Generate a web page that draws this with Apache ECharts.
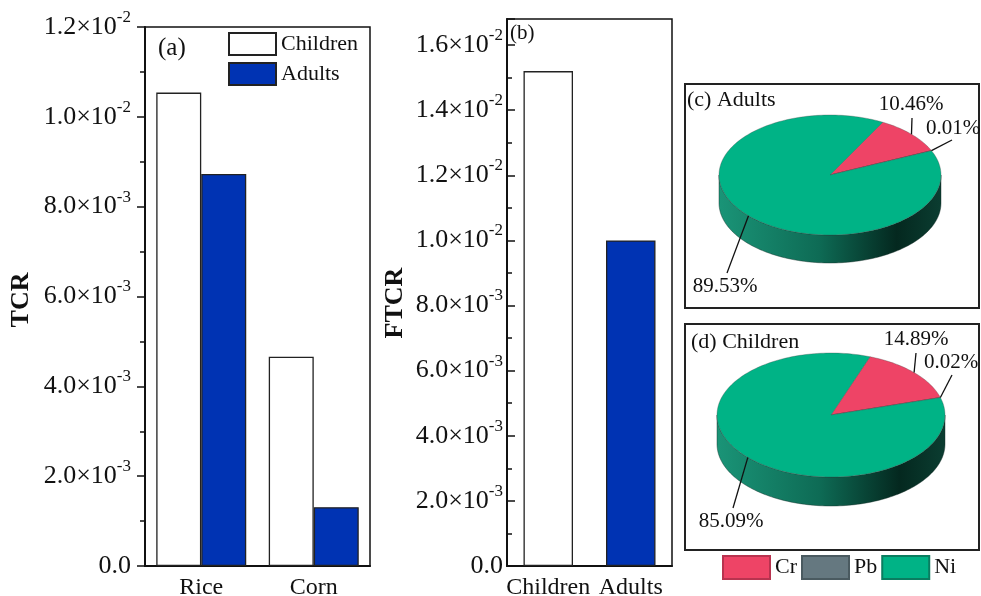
<!DOCTYPE html>
<html>
<head>
<meta charset="utf-8">
<script src="https://cdn.jsdelivr.net/npm/echarts@6/dist/echarts.min.js"></script>
<style>
html,body{margin:0;padding:0;background:#fff;}
#chart{width:981px;height:596px;}
</style>
</head>
<body>
<div id="chart"></div>
<script>
// ---------------- data ----------------
const categoriesA = ['Rice', 'Corn'];
const seriesNamesA = ['Children', 'Adults'];
const tcrChildren = [0.01054, 0.00466];
const tcrAdults = [0.00873, 0.00131];

const categoriesB = ['Children', 'Adults'];
const ftcrValues = [0.0152, 0.0100];

const pieElements = ['Cr', 'Pb', 'Ni'];
const pieGroups = ['Adults', 'Children'];
const adultsShares = [10.46, 0.01, 89.53];
const childrenShares = [14.89, 0.02, 85.09];

const axisA = { min: 0, max: 0.012, interval: 0.002 };
const axisB = { min: 0, max: 0.0168, interval: 0.002 };

// ---------------- styles / layout ----------------
const FONT = 'Liberation Serif';
const BLUE = '#0033b3';
const elementColors = { Cr: '#ee4466', Pb: '#657880', Ni: '#00b386' };
const elementBorders = { Cr: '#b8334f', Pb: '#4a5a60', Ni: '#0a7d60' };
const sideStops = {
  Cr: [['#c23355', 0], ['#7a1f35', 0.8], ['#8a2a40', 1]],
  Pb: [['#56666c', 0], ['#2d3a3f', 0.8], ['#3a4a50', 1]],
  Ni: [['#1a9477', 0], ['#0e6b55', 0.45], ['#04281f', 0.8], ['#0b3d31', 1]]
};
const PIE_LAYOUT = [
  { cx: 830, cy: 175, rx: 111, ry: 60, depth: 28, start: 61.6,
    labels: [ { end: [912, 118], text: [911, 104] },
              { end: [952, 140], text: [953, 128] },
              { end: [727, 273], text: [725, 286] } ] },
  { cx: 831, cy: 415, rx: 114, ry: 62, depth: 29, start: 70,
    labels: [ { end: [916, 353], text: [916, 339] },
              { end: [952, 375], text: [951, 362] },
              { end: [733, 508], text: [731, 521] } ] }
];
const sharesByGroup = [adultsShares, childrenShares];

function sciLabel(v) {
  if (Math.abs(v) < 1e-12) return '{z|0.0}';
  const e = Math.floor(Math.log10(v) + 1e-9);
  const m = (v / Math.pow(10, e)).toFixed(1);
  return '{m|' + m + '×10}{s|' + e + '}';
}
const sciRich = {
  z: { fontFamily: FONT, fontSize: 26, color: '#111', padding: [5, 0, 0, 0] },
  m: { fontFamily: FONT, fontSize: 26, color: '#111', padding: [5, 0, 0, 0] },
  s: { fontFamily: FONT, fontSize: 17, color: '#111', verticalAlign: 'top' }
};

function renderPie(params, api) {
  const elemIdx = pieElements.indexOf(params.seriesName);
  const pieIdx = api.value(0);
  const shares = sharesByGroup[pieIdx];
  const L = PIE_LAYOUT[pieIdx];
  const total = shares.reduce((a, b) => a + b, 0);
  let cum = 0;
  for (let i = 0; i < elemIdx; i++) cum += shares[i];
  const hi = L.start - cum / total * 360;
  const lo = L.start - (cum + shares[elemIdx]) / total * 360;
  const pt = (deg, dy) => {
    const r = deg * Math.PI / 180;
    return [L.cx + L.rx * Math.cos(r), L.cy - L.ry * Math.sin(r) + (dy || 0)];
  };
  const arc = (a, b, dy) => {
    const n = Math.max(2, Math.ceil(Math.abs(b - a) / 1.5));
    const out = [];
    for (let i = 0; i <= n; i++) out.push(pt(a + (b - a) * i / n, dy));
    return out;
  };
  const color = api.visual('color');
  const children = [];
  for (let k = -2; k <= 1; k++) {
    const s = Math.max(lo, -180 + 360 * k), e = Math.min(hi, 360 * k);
    if (e > s) {
      const pts = arc(s, e, 0).concat(arc(e, s, L.depth));
      children.push({
        type: 'polygon', z2: 1,
        shape: { points: pts },
        style: {
          fill: { type: 'linear', x: L.cx - L.rx, y: 0, x2: L.cx + L.rx, y2: 0, global: true,
                  colorStops: sideStops[params.seriesName].map(c => ({ offset: c[1], color: c[0] })) },
          stroke: 'rgba(20,40,35,0.7)', lineWidth: 0.6
        }
      });
    }
  }
  children.push({
    type: 'polygon', z2: 10,
    shape: { points: [[L.cx, L.cy]].concat(arc(hi, lo, 0)) },
    style: { fill: color, stroke: 'rgba(70,70,70,0.55)', lineWidth: 0.6 }
  });
  const anchor = pt((hi + lo) / 2, 0);
  const lab = L.labels[elemIdx];
  children.push({
    type: 'line', z2: 20,
    shape: { x1: anchor[0], y1: anchor[1], x2: lab.end[0], y2: lab.end[1] },
    style: { stroke: '#111', lineWidth: 1.3 }
  });
  children.push({
    type: 'text', z2: 20,
    style: { text: shares[elemIdx].toFixed(2) + '%', x: lab.text[0], y: lab.text[1],
             align: 'center', verticalAlign: 'middle', fontFamily: FONT, fontSize: 21, fill: '#111' }
  });
  return { type: 'group', children: children };
}

const chart = echarts.init(document.getElementById('chart'), null, { renderer: 'canvas' });

const pieSeries = pieElements.map(name => ({
  type: 'custom', name: name, coordinateSystem: 'none',
  itemStyle: { color: elementColors[name], borderColor: elementBorders[name], borderWidth: 1 },
  data: pieGroups.map((g, gi) => ({ name: g, value: [gi, sharesByGroup[gi][pieElements.indexOf(name)]] })),
  renderItem: renderPie,
  silent: true
}));

const option = {
  backgroundColor: '#fff',
  animation: false,
  legend: [
    { data: seriesNamesA, orient: 'vertical', left: 223, top: 27, itemWidth: 47, itemHeight: 22,
      itemGap: 6, icon: 'rect', selectedMode: false,
      textStyle: { fontFamily: FONT, fontSize: 22, color: '#111' } },
    { data: pieElements, orient: 'horizontal', left: 717, top: 550, itemWidth: 47, itemHeight: 23,
      itemGap: 4, icon: 'rect', selectedMode: false,
      textStyle: { fontFamily: FONT, fontSize: 22, color: '#111' } }
  ],
  grid: [
    { left: 145, top: 27, width: 225, height: 539, show: true, borderColor: '#111', borderWidth: 1.5,
      backgroundColor: 'transparent', containLabel: false, outerBoundsMode: 'none' },
    { left: 507, top: 19, width: 165, height: 547, show: true, borderColor: '#111', borderWidth: 1.5,
      backgroundColor: 'transparent', containLabel: false, outerBoundsMode: 'none' }
  ],
  xAxis: [
    { type: 'category', gridIndex: 0, data: categoriesA,
      axisLine: { lineStyle: { color: '#111', width: 2 } }, axisTick: { show: false },
      axisLabel: { fontFamily: FONT, fontSize: 24, color: '#111', margin: 10 } },
    { type: 'category', gridIndex: 1, data: categoriesB,
      axisLine: { lineStyle: { color: '#111', width: 2 } }, axisTick: { show: false },
      axisLabel: { fontFamily: FONT, fontSize: 24, color: '#111', margin: 10, interval: 0 } }
  ],
  yAxis: [
    { type: 'value', gridIndex: 0, min: axisA.min, max: axisA.max, interval: axisA.interval,
      axisLine: { show: true, lineStyle: { color: '#111', width: 2 } },
      axisTick: { show: true, inside: false, length: 8, lineStyle: { color: '#111', width: 1.5 } },
      minorTick: { show: true, splitNumber: 2, length: 5, lineStyle: { color: '#111', width: 1.5 } },
      splitLine: { show: false },
      axisLabel: { formatter: sciLabel, rich: sciRich, margin: 14, padding: [0, 0, 5, 0] } },
    { type: 'value', gridIndex: 1, min: axisB.min, max: axisB.max, interval: axisB.interval,
      axisLine: { show: true, lineStyle: { color: '#111', width: 2 } },
      axisTick: { show: true, inside: true, length: 8, lineStyle: { color: '#111', width: 1.5 } },
      minorTick: { show: true, splitNumber: 2, length: 5, lineStyle: { color: '#111', width: 1.5 } },
      splitLine: { show: false },
      axisLabel: { formatter: sciLabel, rich: sciRich, margin: 4, padding: [0, 0, 5, 0], showMaxLabel: false } }
  ],
  series: [
    { type: 'bar', name: seriesNamesA[0], xAxisIndex: 0, yAxisIndex: 0, data: tcrChildren,
      barGap: '0%', barCategoryGap: '20%',
      itemStyle: { color: '#ffffff', borderColor: '#222', borderWidth: 1.3 } },
    { type: 'bar', name: seriesNamesA[1], xAxisIndex: 0, yAxisIndex: 0, data: tcrAdults,
      barGap: '0%', barCategoryGap: '20%',
      itemStyle: { color: BLUE, borderColor: '#222', borderWidth: 1.3 } },
    { type: 'bar', name: 'FTCR', xAxisIndex: 1, yAxisIndex: 1, data: ftcrValues,
      barCategoryGap: '40%',
      itemStyle: { color: p => (p.dataIndex === 0 ? '#ffffff' : BLUE), borderColor: '#222', borderWidth: 1.3 } }
  ].concat(pieSeries),
  graphic: [
    { type: 'text', left: 158, top: 36, style: { text: '(a)', fontFamily: FONT, fontSize: 25, fill: '#111' } },
    { type: 'text', left: 510, top: 23, style: { text: '(b)', fontFamily: FONT, fontSize: 21, fill: '#111' } },
    { type: 'text', x: 21, y: 300, rotation: Math.PI / 2,
      style: { text: 'TCR', fontFamily: FONT, fontWeight: 'bold', fontSize: 26, fill: '#111', align: 'center', verticalAlign: 'middle' } },
    { type: 'text', x: 395, y: 303, rotation: Math.PI / 2,
      style: { text: 'FTCR', fontFamily: FONT, fontWeight: 'bold', fontSize: 26, fill: '#111', align: 'center', verticalAlign: 'middle' } },
    { type: 'rect', shape: { x: 685, y: 84, width: 294, height: 224 }, style: { fill: 'none', stroke: '#222', lineWidth: 2 } },
    { type: 'rect', shape: { x: 685, y: 324, width: 294, height: 226 }, style: { fill: 'none', stroke: '#222', lineWidth: 2 } },
    { type: 'text', left: 687, top: 89, style: { text: '(c) Adults', fontFamily: FONT, fontSize: 22, fill: '#111' } },
    { type: 'text', left: 691, top: 331, style: { text: '(d) Children', fontFamily: FONT, fontSize: 22, fill: '#111' } }
  ]
};
chart.setOption(option);
</script>
</body>
</html>
